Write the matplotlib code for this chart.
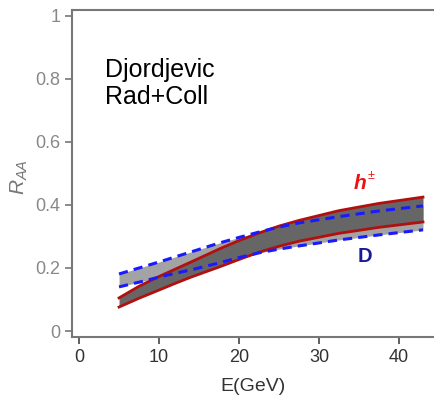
import matplotlib.pyplot as plt

# Energy grid (GeV)
e = [5, 7.5, 10, 12, 14, 17.5, 20, 22.5, 25, 27.5, 32.5, 37.5, 43]

# h+- band (red solid)
h_up = [0.105, 0.142, 0.173, 0.196, 0.219, 0.260, 0.287, 0.311, 0.333, 0.351, 0.382, 0.405, 0.425]
h_lo = [0.076, 0.104, 0.130, 0.151, 0.171, 0.203, 0.227, 0.250, 0.269, 0.285, 0.310, 0.329, 0.346]

# D band (blue dashed)
d_up = [0.181, 0.200, 0.219, 0.235, 0.251, 0.279, 0.297, 0.314, 0.330, 0.343, 0.363, 0.381, 0.397]
d_lo = [0.140, 0.155, 0.171, 0.183, 0.194, 0.216, 0.233, 0.248, 0.260, 0.270, 0.289, 0.305, 0.321]

plt.rcParams['font.family'] = ['Liberation Sans', 'DejaVu Sans']
plt.rcParams['mathtext.fontset'] = 'custom'
plt.rcParams['mathtext.rm'] = 'Liberation Sans'
plt.rcParams['mathtext.it'] = 'Liberation Sans:italic'
plt.rcParams['mathtext.bf'] = 'Liberation Sans:bold'

fig = plt.figure(figsize=(4.34, 3.96), dpi=100)
ax = fig.add_axes([0.166, 0.149, 0.834, 0.826])

# D band underneath, lighter gray
ax.fill_between(e, d_lo, d_up, color="#a3a3a3", lw=0)
# h band on top, darker gray
ax.fill_between(e, h_lo, h_up, color="#666666", lw=0)

ax.plot(e, h_up, color="#b01010", lw=2)
ax.plot(e, h_lo, color="#b01010", lw=2)
ax.plot(e, d_up, color="#1a1aff", lw=2.2, ls=(0, (3, 2)))
ax.plot(e, d_lo, color="#1a1aff", lw=2.2, ls=(0, (3, 2)))

ax.text(35.1, 0.467, "h", color="#ee1111", fontsize=15,
        ha="center", va="center", fontstyle="italic", fontweight="bold")
ax.annotate("±", (35.1, 0.467), xytext=(8, 6), textcoords="offset points",
            color="#ee1111", fontsize=9, ha="center", va="center")
ax.text(35.75, 0.235, "D", color="#1a1a99", fontsize=14.5, fontweight="bold",
        ha="center", va="center")

ax.text(3.3, 0.785, "Djordjevic\nRad+Coll", fontsize=18, color="black",
        ha="left", va="center", linespacing=1.12)

ax.set_xlim(-0.875, 44.375)
ax.set_ylim(-0.019, 1.019)
ax.set_xticks([0, 10, 20, 30, 40])
ax.set_yticks([0, 0.2, 0.4, 0.6, 0.8, 1])
ax.set_yticklabels(["0", "0.2", "0.4", "0.6", "0.8", "1"])

ax.spines["right"].set_visible(False)
for s in ["left", "bottom", "top"]:
    ax.spines[s].set_color("#777777")
    ax.spines[s].set_linewidth(1.5)
ax.tick_params(axis="y", direction="out", length=5, width=1.2,
               colors="#777777", labelsize=13, labelcolor="#888888")
ax.tick_params(axis="x", direction="out", length=5, width=1.2,
               colors="#444444", labelsize=13, labelcolor="#333333")

ax.set_xlabel("E(GeV)", fontsize=14, color="#333333", labelpad=9)
ax.set_ylabel(r"$R_{AA}$", fontsize=15, color="#777777")
ax.yaxis.set_label_coords(-0.115, 0.49)

fig.savefig("out.png", dpi=100)
